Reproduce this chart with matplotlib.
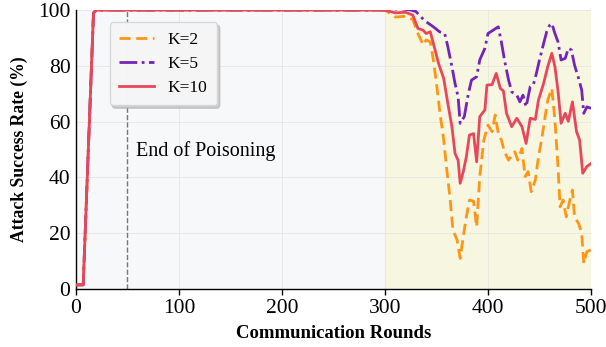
import numpy as np
import matplotlib
matplotlib.use("Agg")
import matplotlib.pyplot as plt

plt.rcParams["font.family"] = ["Liberation Serif", "DejaVu Serif"]

# warm-up ramp shared by all runs
ramp_rounds = [0, 7, 17, 20, 300]
ramp_asr = [1.5, 1.5, 99, 100, 100]

rounds_k2 = [310, 320, 327, 332, 337, 340, 344, 347, 350, 353, 357, 360, 363,
             366, 370, 373, 376, 379, 382, 386, 389, 392, 396, 400, 404, 407,
             410, 413, 416, 420, 423, 426, 429, 433, 436, 439, 442, 446, 449,
             452, 455, 458, 462, 465, 468, 470, 473, 476, 480, 482, 484, 488,
             491, 493, 496, 500]
asr_k2 = [97.5, 97.8, 96.6, 91.6, 87.5, 89.3, 88.6, 82.1, 73.7, 64.2, 53.4,
          42.7, 33.1, 21.1, 17.6, 11.0, 18.7, 25.9, 31.9, 31.5, 22.3, 40.3,
          53.4, 58.8, 56.4, 62.4, 55.8, 53.4, 49.2, 46.2, 48.0, 49.2, 46.2,
          50.4, 40.3, 42.1, 34.9, 39.1, 47.4, 53.4, 60.6, 67.7, 71.9, 60.6,
          43.8, 29.5, 31.9, 25.9, 32.7, 35.5, 25.9, 23.5, 20.0, 9.2, 13.4, 14.0]

rounds_k5 = [315, 325, 330, 335, 340, 347, 353, 358, 361, 365, 368, 371, 373,
             377, 381, 384, 389, 392, 397, 400, 405, 410, 413, 416, 420, 423,
             428, 431, 434, 437, 441, 444, 447, 450, 454, 457, 460, 462, 465,
             468, 471, 475, 478, 481, 484, 488, 491, 493, 496, 500]
asr_k5 = [100.5, 100, 99.5, 97.5, 95.8, 94.0, 92.2, 91.6, 86.9, 79.7, 73.7,
          68.9, 59.4, 61.8, 70.1, 74.9, 76.1, 82.1, 86.3, 91.6, 92.8, 94.0,
          88.6, 82.1, 74.9, 70.7, 69.5, 67.1, 69.5, 65.3, 72.5, 73.1, 77.3,
          82.1, 88.0, 92.2, 94.6, 95.2, 91.6, 88.6, 82.1, 82.7, 86.3, 85.7,
          80.3, 75.5, 71.3, 63.0, 65.3, 64.8]

rounds_k10 = [310, 320, 327, 332, 337, 340, 344, 347, 352, 357, 361, 365, 368,
              371, 373, 376, 379, 382, 386, 389, 392, 397, 399, 404, 408, 412,
              415, 418, 423, 428, 433, 437, 441, 446, 449, 454, 458, 462, 465,
              468, 471, 475, 478, 482, 486, 489, 492, 496, 500]
asr_k10 = [99.0, 99.2, 98.2, 93.4, 92.8, 91.6, 92.2, 88.0, 80.9, 75.5, 66.6,
           58.2, 48.6, 46.2, 37.9, 42.0, 47.4, 55.2, 55.7, 45.6, 61.8, 64.2,
           73.1, 73.3, 77.3, 71.9, 71.0, 63.0, 58.2, 61.2, 58.2, 52.2, 61.2,
           60.8, 67.7, 73.7, 79.7, 84.5, 79.7, 71.0, 59.4, 63.0, 60.1, 67.1,
           56.4, 53.4, 41.5, 43.9, 45.0]

series = [
    ("K=2", rounds_k2, asr_k2, "#ff9515", (0, (4, 2))),
    ("K=5", rounds_k5, asr_k5, "#7424b8", "-."),
    ("K=10", rounds_k10, asr_k10, "#e8475a", "-"),
]

fig = plt.figure(figsize=(6.06, 3.47), dpi=100)
ax = fig.add_axes([0.1254, 0.167, 0.8498, 0.804])
ax.set_facecolor("#f7f8fa")

# post-poisoning phase
ax.axvspan(300, 500, color="#f7f6e0", zorder=0)

for label, r, v, color, ls in series:
    ax.plot(ramp_rounds + r, ramp_asr + v, label=label, color=color,
            linestyle=ls, lw=2, zorder=3)

ax.axvline(50, color="#777777", linestyle="--", lw=1, zorder=2)
ax.text(58, 49.5, "End of Poisoning", fontsize=14.5, va="center", ha="left")

ax.set_xlim(0, 500)
ax.set_ylim(0, 100)
ax.set_xticks(range(0, 501, 100))
ax.set_yticks(range(0, 101, 20))
ax.tick_params(axis="both", labelsize=15.5)
ax.tick_params(axis="x", length=4, width=1, direction="out")
ax.tick_params(axis="y", length=0, pad=4)
ax.grid(True, color="#e6e6e6", lw=0.6, zorder=1)
ax.set_axisbelow(True)

for side in ("top", "right"):
    ax.spines[side].set_visible(False)
for side in ("left", "bottom"):
    ax.spines[side].set_color("black")
    ax.spines[side].set_linewidth(1)

ax.set_xlabel("Communication Rounds", fontsize=13.5, fontweight="bold", labelpad=5)
ax.set_ylabel("Attack Success Rate (%)", fontsize=12.7, fontweight="bold", labelpad=7)

leg = ax.legend(loc="upper left", bbox_to_anchor=(0.055, 0.975), fontsize=12.5,
                frameon=True, fancybox=True,
                shadow={"color": "#b0b0b0", "alpha": 0.6, "ox": 2, "oy": -2},
                framealpha=0.95, edgecolor="#d6d6d6", handlelength=2.0,
                handletextpad=0.8, borderpad=0.55, labelspacing=0.45,
                borderaxespad=0.3)
leg.get_frame().set_facecolor("#f8f8f8")

fig.savefig("out.png", dpi=100)
